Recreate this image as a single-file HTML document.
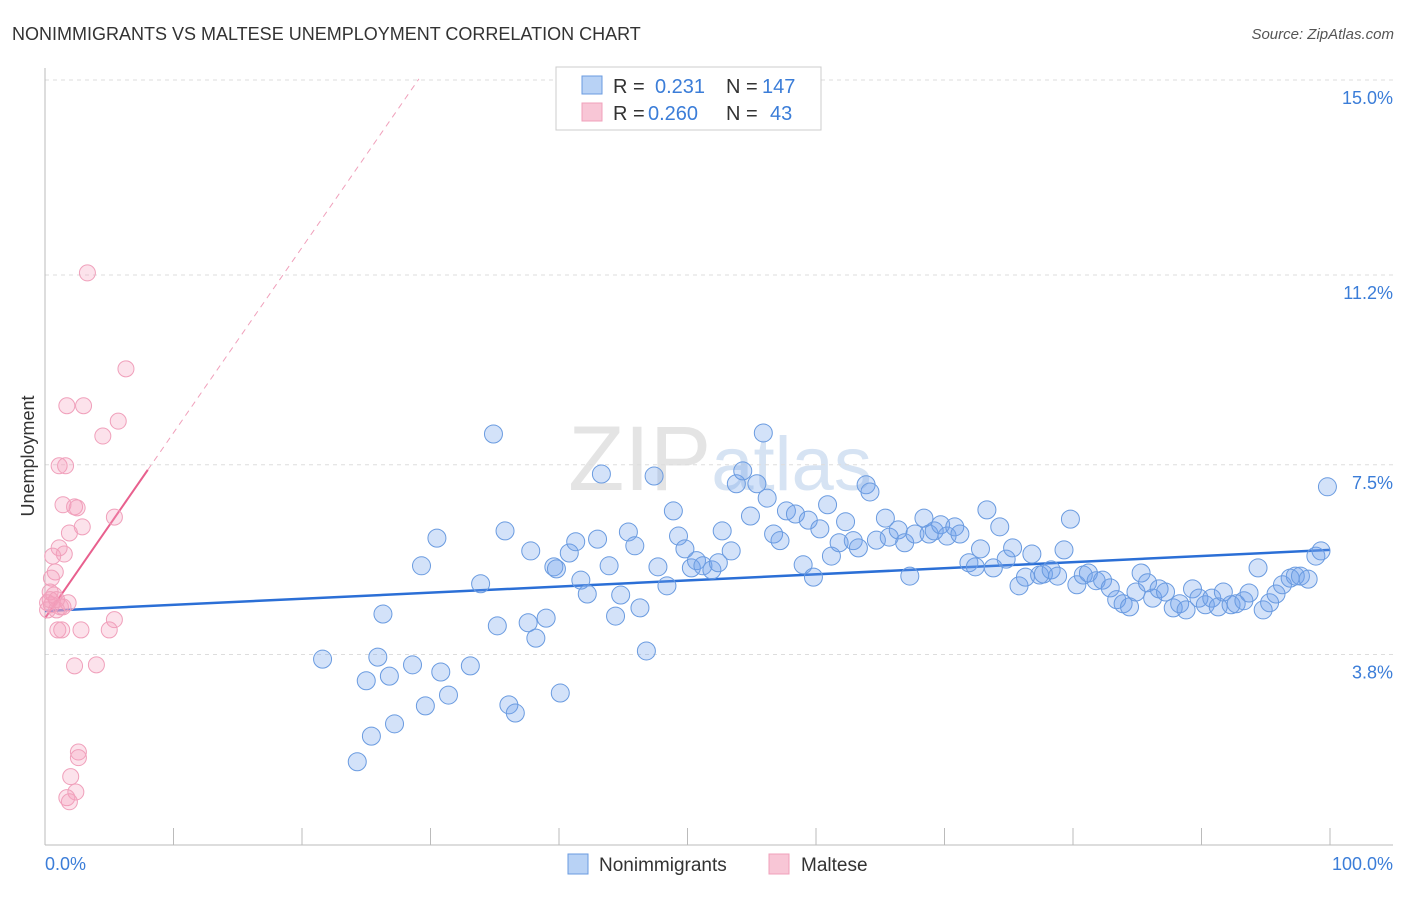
<!DOCTYPE html>
<html><head><meta charset="utf-8"><style>
body{margin:0;background:#fff;font-family:"Liberation Sans",sans-serif;}
svg text{font-family:"Liberation Sans",sans-serif;}
</style></head><body>
<svg id="chart" width="1406" height="892" xmlns="http://www.w3.org/2000/svg">
<text x="12" y="40" font-size="18" fill="#333">NONIMMIGRANTS VS MALTESE UNEMPLOYMENT CORRELATION CHART</text>
<text x="1394" y="39" font-size="15" fill="#555" text-anchor="end" font-style="italic">Source: ZipAtlas.com</text>
<text x="720" y="490" font-size="92" fill="#e4e4e4" text-anchor="middle" font-family="Liberation Serif"><tspan>ZIP</tspan><tspan fill="#d6e3f3" font-family="Liberation Sans" font-size="76">atlas</tspan></text>
<text x="34" y="456" font-size="18" fill="#333" text-anchor="middle" transform="rotate(-90 34 456)">Unemployment</text>
<g id="grid"></g><g id="axes"></g><g id="trend"></g><g id="pts"></g>
<g>
<rect x="556" y="67" width="265" height="63" fill="#fff" stroke="#ccc"/>
<rect x="582" y="76" width="20" height="18" fill="#b8d2f5" stroke="#6a9be0"/>
<text x="613" y="93" font-size="20" fill="#333">R =</text><text x="655" y="93" font-size="20" fill="#3b7dd8">0.231</text>
<text x="726" y="93" font-size="20" fill="#333">N =</text><text x="762" y="93" font-size="20" fill="#3b7dd8">147</text>
<rect x="582" y="103" width="20" height="18" fill="#f8c6d6" stroke="#f0a0bb"/>
<text x="613" y="120" font-size="20" fill="#333">R =</text><text x="648" y="120" font-size="20" fill="#3b7dd8">0.260</text>
<text x="726" y="120" font-size="20" fill="#333">N =</text><text x="770" y="120" font-size="20" fill="#3b7dd8">43</text>
</g>
<g>
<rect x="568" y="854" width="20" height="20" fill="#b8d2f5" stroke="#6a9be0"/>
<text x="599" y="871" font-size="19" fill="#333">Nonimmigrants</text>
<rect x="769" y="854" width="20" height="20" fill="#f8c6d6" stroke="#f0a0bb"/>
<text x="801" y="871" font-size="19" fill="#333">Maltese</text>
</g>
</svg>
<script>
const yTicks=[15.0,11.2,7.5,3.8];
const yTickLabels=["15.0%","11.2%","7.5%","3.8%"];
const xTickLabels=["0.0%","100.0%"];
const blueX=[21.6,25.0,25.4,24.3,25.9,26.8,27.2,26.3,28.6,29.6,29.3,30.5,30.8,31.4,33.1,33.9,35.2,34.9,35.8,36.1,36.6,37.6,37.8,38.2,39.0,39.6,39.8,40.1,40.8,41.3,41.7,42.2,43.0,43.3,43.9,44.4,44.8,45.4,45.9,46.3,46.8,47.4,47.7,48.4,48.9,49.3,49.8,50.3,50.7,51.2,51.9,52.4,52.7,53.4,53.8,54.3,54.9,55.4,55.9,56.2,56.7,57.2,57.7,58.4,59.0,59.4,59.8,60.3,60.9,61.2,61.8,62.3,62.9,63.3,63.9,64.2,64.7,65.4,65.7,66.4,66.9,67.3,67.7,68.4,68.8,69.2,69.7,70.2,70.8,71.2,71.9,72.4,72.8,73.3,73.8,74.3,74.8,75.3,75.8,76.3,76.8,77.4,77.7,78.3,78.8,79.3,79.8,80.3,80.8,81.2,81.8,82.3,82.9,83.4,83.9,84.4,84.9,85.3,85.8,86.2,86.7,87.2,87.8,88.3,88.8,89.3,89.8,90.3,90.8,91.3,91.7,92.3,92.7,93.3,93.7,94.4,94.8,95.3,95.8,96.3,96.9,97.3,97.7,98.3,98.9,99.3,99.8];
const blueY=[3.71,3.29,2.21,1.71,3.75,3.38,2.45,4.59,3.60,2.80,5.53,6.07,3.46,3.01,3.58,5.18,4.36,8.10,6.21,2.82,2.66,4.42,5.82,4.12,4.51,5.51,5.47,3.05,5.78,6.00,5.25,4.98,6.05,7.32,5.53,4.55,4.96,6.19,5.92,4.71,3.87,7.28,5.51,5.14,6.60,6.11,5.86,5.49,5.63,5.53,5.45,5.59,6.21,5.82,7.13,7.38,6.50,7.13,8.12,6.85,6.15,6.02,6.60,6.54,5.55,6.42,5.31,6.25,6.72,5.72,5.98,6.39,6.02,5.88,7.11,6.97,6.03,6.46,6.09,6.23,5.98,5.33,6.15,6.46,6.15,6.21,6.33,6.11,6.29,6.15,5.59,5.51,5.86,6.62,5.49,6.29,5.66,5.88,5.14,5.31,5.76,5.35,5.37,5.45,5.33,5.84,6.44,5.16,5.35,5.39,5.24,5.25,5.10,4.87,4.79,4.73,5.02,5.39,5.20,4.90,5.08,5.02,4.71,4.79,4.67,5.08,4.90,4.77,4.90,4.73,5.02,4.77,4.79,4.85,5.00,5.49,4.67,4.81,4.98,5.16,5.29,5.33,5.33,5.27,5.72,5.82,7.07];
const pinkX=[3.3,6.3,1.7,3.0,5.7,4.5,1.1,1.6,1.4,2.3,2.5,5.4,2.9,1.9,1.1,1.5,0.6,0.8,0.5,0.4,0.7,0.2,0.5,1.2,1.8,0.2,0.9,1.4,5.4,2.8,5.0,1.0,1.3,2.3,4.0,2.6,2.6,2.0,2.4,1.7,1.9,0.4,0.9];
const pinkY=[11.24,9.37,8.65,8.65,8.35,8.06,7.48,7.48,6.72,6.68,6.66,6.48,6.29,6.17,5.88,5.76,5.72,5.41,5.29,5.02,4.96,4.81,4.77,4.73,4.81,4.67,4.67,4.73,4.48,4.28,4.28,4.28,4.28,3.58,3.60,1.90,1.79,1.42,1.12,1.01,0.93,4.87,4.87];
const blueTrend=[4.65,5.84];
const pinkTrend=[4.51,7.40];
const pinkSolidEnd=8.0, pinkDashEnd=29.1;

const NS="http://www.w3.org/2000/svg";
const X0=45,X1=1330,Y15=80,PPU=51.3;
const sx=v=>X0+(X1-X0)*v/100;
const sy=v=>Y15+(15-v)*PPU;
function mk(tag,attrs,parent){const e=document.createElementNS(NS,tag);for(const k in attrs)e.setAttribute(k,attrs[k]);document.getElementById(parent).appendChild(e);return e;}

yTicks.forEach((t,i)=>{
 const l=mk('line',{x1:X0,x2:1393,y1:sy(t),y2:sy(t),stroke:'#ddd','stroke-dasharray':'4,4'},'grid');
 
 
 const tx=mk('text',{x:1393,y:sy(t)+24,'font-size':18,fill:'#3b7dd8','text-anchor':'end'},'grid');
 tx.textContent=yTickLabels[i];
 
 
});
const ax=mk('line',{x1:X0,x2:X0,y1:68,y2:845,stroke:'#bbb'},'axes');


const bx=mk('line',{x1:X0,x2:1393,y1:845,y2:845,stroke:'#bbb'},'axes');


for(let i=0;i<=10;i++){
 const t=mk('line',{x1:sx(i*10),x2:sx(i*10),y1:828,y2:845,stroke:'#bbb'},'axes');
 
 
}
[[0,'start',45],[100,'end',1393]].forEach((d,i)=>{
 const t=mk('text',{x:d[2],y:870,'font-size':18,fill:'#3b7dd8','text-anchor':d[1]},'axes');
 t.textContent=xTickLabels[i];
 
 
});
blueX.forEach((v,i)=>{
 const c=mk('circle',{cx:sx(v),cy:sy(blueY[i]),r:9,fill:'rgba(110,160,235,0.3)',stroke:'#6a9be0','stroke-width':1},'pts');
 
 
});
pinkX.forEach((v,i)=>{
 const c=mk('circle',{cx:sx(v),cy:sy(pinkY[i]),r:8,fill:'rgba(245,160,190,0.3)',stroke:'#f0a0bb','stroke-width':1},'pts');
 
 
});
const bt=mk('line',{x1:sx(0),y1:sy(blueTrend[0]),x2:sx(100),y2:sy(blueTrend[1]),stroke:'#2b6fd6','stroke-width':2.5},'trend');


const slope=(pinkTrend[1]-pinkTrend[0])/pinkSolidEnd;
const pt=mk('line',{x1:sx(0),y1:sy(pinkTrend[0]),x2:sx(pinkSolidEnd),y2:sy(pinkTrend[1]),stroke:'#e8608e','stroke-width':2},'trend');


const pd=mk('line',{x1:sx(pinkSolidEnd),y1:sy(pinkTrend[1]),x2:sx(pinkDashEnd),y2:sy(pinkTrend[0]+slope*pinkDashEnd),stroke:'#f0a0bb','stroke-width':1,'stroke-dasharray':'6,5'},'trend');


</script>
</body></html>
